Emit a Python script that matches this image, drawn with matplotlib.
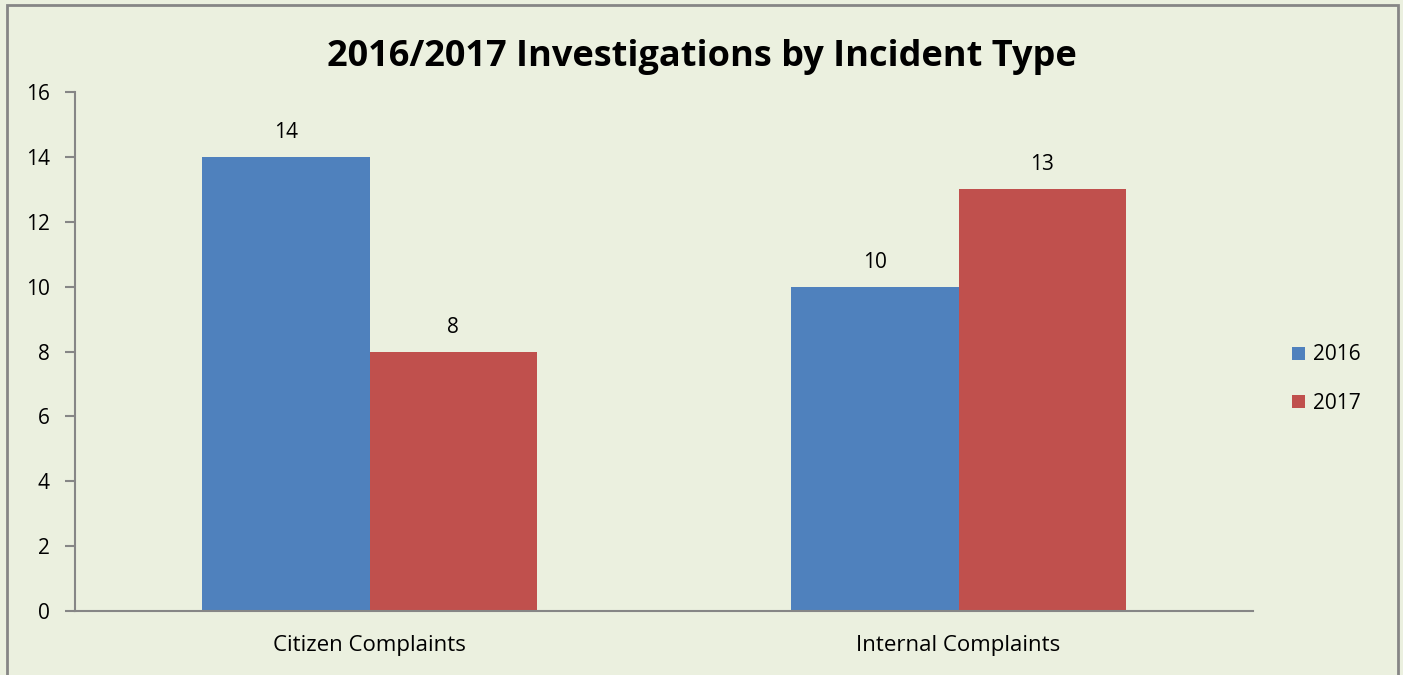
#!/usr/bin/env python3
# 2016/2017 investigations by incident type, grouped bar chart

import numpy as np
from matplotlib import pyplot as plt
from matplotlib.patches import Rectangle

categories = ["Citizen Complaints", "Internal Complaints"]
years = ["2016", "2017"]
values2016 = [14, 10]
values2017 = [8, 13]
yTicks = [0, 2, 4, 6, 8, 10, 12, 14, 16]

bgColor = "#EBF0DF"
colors = ["#4F81BD", "#C0504D"]
axisColor = "#868686"

plt.rcParams["font.family"] = ["Open Sans", "DejaVu Sans"]

fig = plt.figure(figsize=(14.03, 6.75), dpi=100)
fig.patch.set_facecolor(bgColor)
fig.patches.append(Rectangle((7 / 1403, -0.05), (1398 - 7) / 1403, 1.05 - 5 / 675,
                             transform=fig.transFigure, fill=False,
                             edgecolor=axisColor, linewidth=2))

ax = fig.add_axes([75 / 1403, 64 / 675, (1253 - 75) / 1403, (611 - 92) / 675])
ax.set_facecolor(bgColor)

x = np.arange(len(categories))
barWidth = 0.285
bars1 = ax.bar(x - barWidth / 2, values2016, barWidth, color=colors[0], label=years[0])
bars2 = ax.bar(x + barWidth / 2, values2017, barWidth, color=colors[1], label=years[1])
for bars in (bars1, bars2):
    for b in bars:
        ax.annotate(f"{int(b.get_height())}", (b.get_x() + b.get_width() / 2, b.get_height()),
                    xytext=(0, 10), textcoords="offset points", ha="center", va="bottom", fontsize=15)

ax.set_xlim(-0.5, 1.5)
ax.set_ylim(0, 16)
ax.set_yticks(yTicks)
ax.set_xticks(x)
ax.set_xticklabels(categories, fontsize=16)
ax.tick_params(axis="x", length=0, pad=17)
ax.tick_params(axis="y", length=7, color=axisColor, width=1.5, labelsize=15, pad=11)
for s in ["top", "right"]:
    ax.spines[s].set_visible(False)
for s in ["left", "bottom"]:
    ax.spines[s].set_color(axisColor)
    ax.spines[s].set_linewidth(1.5)

fig.text(0.5, 0.915, "2016/2017 Investigations by Incident Type", ha="center", va="center",
         fontsize=26, fontweight="bold")

ax.legend(loc="center left", bbox_to_anchor=(1292 / 1403, 1 - 379 / 675), bbox_transform=fig.transFigure,
          frameon=False, fontsize=15, handlelength=0.6, handleheight=0.6, labelspacing=1.3,
          handletextpad=0.4, borderaxespad=0, borderpad=0)

fig.savefig("out.png", facecolor=bgColor)
